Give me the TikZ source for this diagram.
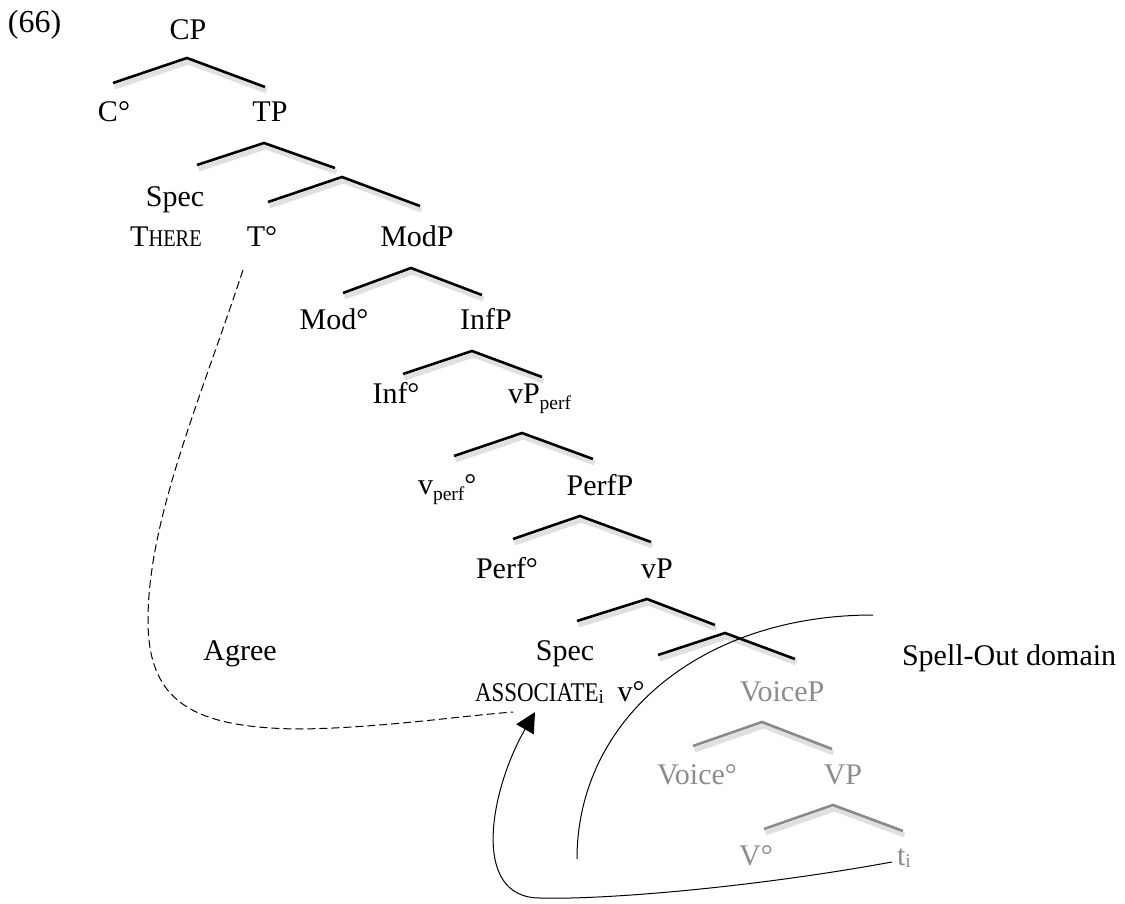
\documentclass[tikz,border=0pt]{standalone}
\usepackage{fontspec}
\setmainfont{Liberation Serif}
\newfontfamily\scfont[FakeStretch=0.85]{Liberation Serif}
\usetikzlibrary{arrows.meta}
\definecolor{greytext}{HTML}{8C8C8C}
\definecolor{greybranch}{HTML}{8A8A8A}
\newcommand\subtxt[2][6pt]{\raisebox{-#1}{\fontsize{19.5}{20}\selectfont #2}}
\begin{document}
\begin{tikzpicture}[x=1pt,y=-1pt,
  every node/.style={inner sep=0pt, outer sep=0pt, font=\fontsize{30}{34}\selectfont},
  lab/.style={anchor=base},
  labw/.style={anchor=base west},
  greylab/.style={text=greytext},
  branch/.style={line width=2.6pt, line cap=butt, line join=miter},
  greybranchline/.style={branch, draw=greybranch},
  shadowline/.style={line width=5pt, draw=black!12, line join=round},
  thinline/.style={line width=1pt},
  agreeline/.style={line width=1pt, dash pattern=on 8pt off 4pt}]
\useasboundingbox (0,0) rectangle (1125,904);

% ---------- labels ----------
\node[labw, font=\fontsize{32}{36}\selectfont] (ex) at (8,33) {(66)};
\node[lab] (cp) at (188,40) {CP};
\node[lab] (c0) at (114,122) {C°};
\node[lab] (tp) at (270,122) {TP};
\node[lab] (spec1) at (175,207) {Spec};
\node[lab] (there) at (166,247) {T{\scfont\fontsize{24}{26}\selectfont HERE}};
\node[lab] (t0) at (262,247) {T°};
\node[lab] (modp) at (417,247) {ModP};
\node[lab] (mod0) at (334,330) {Mod°};
\node[lab] (infp) at (486,330) {InfP};
\node[lab] (inf0) at (396,403) {Inf°};
\node[labw] (vpperf) at (508,403) {vP\subtxt{perf}};
\node[labw] (vperf0) at (418,494) {v\subtxt{perf}°};
\node[lab] (perfp) at (600,495) {PerfP};
\node[lab] (perf0) at (507,578) {Perf°};
\node[lab] (vp) at (657,578) {vP};
\node[lab] (spec2) at (565,660) {Spec};
\node[labw] (assoc) at (475,701) {{\scfont\fontsize{27}{30}\selectfont ASSOCIATE}\subtxt[2pt]{i}};
\node[lab] (v0) at (631,701) {v°};
\node[lab, greylab] (voicep) at (782,701) {VoiceP};
\node[lab, greylab] (voice0) at (697,784) {Voice°};
\node[lab, greylab] (vpbig) at (843,784) {VP};
\node[lab, greylab] (vbig0) at (756,865) {V°};
\node[labw, greylab] (ti) at (897,865) {t\subtxt[2pt]{i}};
\node[lab] (agree) at (240,660) {Agree};
\node[labw] (spell) at (902,665) {Spell-Out domain};

% ---------- branch points ----------
\foreach \n/\l/\a/\r in {
  t1/{113,83}/{187,58}/{265,87},
  t2/{197,165}/{264,143}/{335,168},
  t3/{268,202}/{342,177}/{420,206},
  t4/{343,293}/{411,268}/{482,295},
  t5/{403,374}/{472,351}/{542,377},
  t6/{454,456}/{522,433}/{593,459},
  t7/{513,539}/{580,516}/{651,542},
  t8/{577,621}/{647,599}/{715,625},
  t9/{658,655}/{725,633}/{795,659},
  t10/{693,746}/{762,722}/{832,749},
  t11/{764,829}/{833,805}/{903,831}}
{\coordinate (\n-l) at (\l); \coordinate (\n-a) at (\a); \coordinate (\n-r) at (\r);}

% shadows
\foreach \n in {t1,t2,t3,t4,t5,t6,t7,t8,t9,t10,t11}
  \draw[shadowline] ([shift={(1.5,4)}]\n-l) -- ([shift={(1.5,4)}]\n-a) -- ([shift={(1.5,4)}]\n-r);

% branches
\foreach \n in {t1,t2,t3,t4,t5,t6,t7,t8,t9}
  \draw[branch] (\n-l) -- (\n-a) -- (\n-r);
\foreach \n in {t10,t11}
  \draw[greybranchline] (\n-l) -- (\n-a) -- (\n-r);

% ---------- curves ----------
\coordinate (agS) at (243,270);
\coordinate (agE) at (513,712);
\draw[agreeline] (agS) .. controls (200,400) and (148,520) .. (148,620)
  .. controls (148,700) and (190,728) .. (300,729)
  .. controls (380,728) and (460,716) .. (agE);

\coordinate (soS) at (577,859);
\coordinate (soE) at (873,615);
\draw[thinline] (soS) .. controls (577,720) and (700,615) .. (soE);

\coordinate (mvS) at (892,862);
\coordinate (mvE) at (535,712);
\draw[thinline, -{Triangle[length=20pt,width=20pt]}] (mvS)
  .. controls (750,888) and (600,900) .. (540,898)
  .. controls (470,898) and (490,790) .. (mvE);
\end{tikzpicture}
\end{document}
